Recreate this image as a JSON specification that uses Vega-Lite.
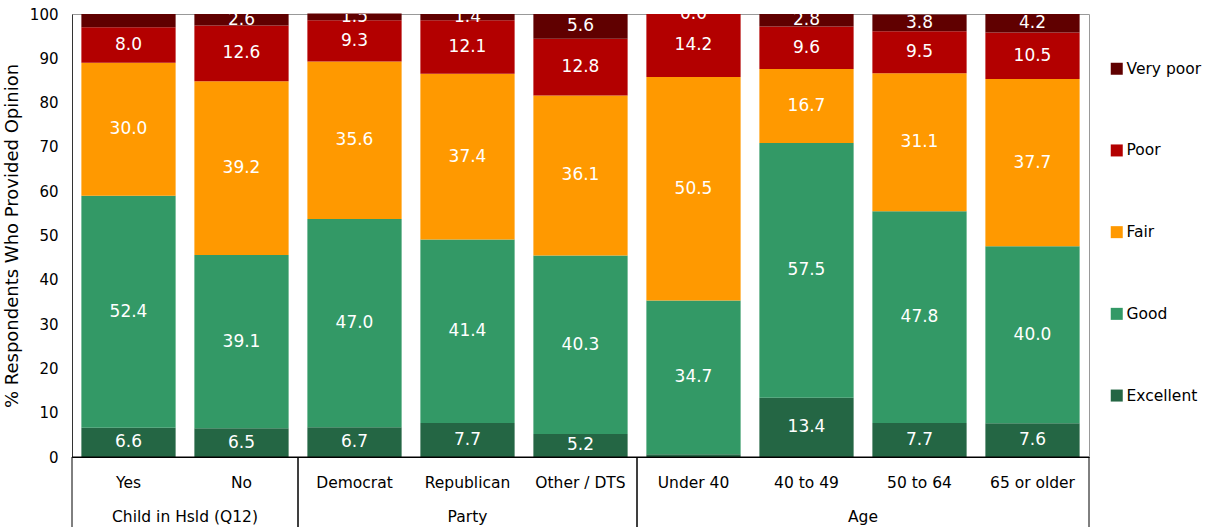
{
  "$schema": "https://vega.github.io/schema/vega-lite/v6.json",
  "width": 1017,
  "height": 443,
  "autosize": {"type": "none"},
  "padding": {"left": 72, "top": 14, "right": 127, "bottom": 70},
  "config": {
    "font": "DejaVu Sans",
    "view": {"stroke": "#999999", "strokeWidth": 1}
  },
  "datasets": {
    "ratings": [
      {"sub": "Yes", "rating": "Excellent", "rank": 1, "value": 6.6},
      {"sub": "Yes", "rating": "Good", "rank": 2, "value": 52.4},
      {"sub": "Yes", "rating": "Fair", "rank": 3, "value": 30.0},
      {"sub": "Yes", "rating": "Poor", "rank": 4, "value": 8.0},
      {"sub": "Yes", "rating": "Very poor", "rank": 5, "value": 3.0},
      {"sub": "No", "rating": "Excellent", "rank": 1, "value": 6.5},
      {"sub": "No", "rating": "Good", "rank": 2, "value": 39.1},
      {"sub": "No", "rating": "Fair", "rank": 3, "value": 39.2},
      {"sub": "No", "rating": "Poor", "rank": 4, "value": 12.6},
      {"sub": "No", "rating": "Very poor", "rank": 5, "value": 2.6},
      {"sub": "Democrat", "rating": "Excellent", "rank": 1, "value": 6.7},
      {"sub": "Democrat", "rating": "Good", "rank": 2, "value": 47.0},
      {"sub": "Democrat", "rating": "Fair", "rank": 3, "value": 35.6},
      {"sub": "Democrat", "rating": "Poor", "rank": 4, "value": 9.3},
      {"sub": "Democrat", "rating": "Very poor", "rank": 5, "value": 1.5},
      {"sub": "Republican", "rating": "Excellent", "rank": 1, "value": 7.7},
      {"sub": "Republican", "rating": "Good", "rank": 2, "value": 41.4},
      {"sub": "Republican", "rating": "Fair", "rank": 3, "value": 37.4},
      {"sub": "Republican", "rating": "Poor", "rank": 4, "value": 12.1},
      {"sub": "Republican", "rating": "Very poor", "rank": 5, "value": 1.4},
      {"sub": "Other / DTS", "rating": "Excellent", "rank": 1, "value": 5.2},
      {"sub": "Other / DTS", "rating": "Good", "rank": 2, "value": 40.3},
      {"sub": "Other / DTS", "rating": "Fair", "rank": 3, "value": 36.1},
      {"sub": "Other / DTS", "rating": "Poor", "rank": 4, "value": 12.8},
      {"sub": "Other / DTS", "rating": "Very poor", "rank": 5, "value": 5.6},
      {"sub": "Under 40", "rating": "Excellent", "rank": 1, "value": 0.6},
      {"sub": "Under 40", "rating": "Good", "rank": 2, "value": 34.7},
      {"sub": "Under 40", "rating": "Fair", "rank": 3, "value": 50.5},
      {"sub": "Under 40", "rating": "Poor", "rank": 4, "value": 14.2},
      {"sub": "Under 40", "rating": "Very poor", "rank": 5, "value": 0.0},
      {"sub": "40 to 49", "rating": "Excellent", "rank": 1, "value": 13.4},
      {"sub": "40 to 49", "rating": "Good", "rank": 2, "value": 57.5},
      {"sub": "40 to 49", "rating": "Fair", "rank": 3, "value": 16.7},
      {"sub": "40 to 49", "rating": "Poor", "rank": 4, "value": 9.6},
      {"sub": "40 to 49", "rating": "Very poor", "rank": 5, "value": 2.8},
      {"sub": "50 to 64", "rating": "Excellent", "rank": 1, "value": 7.7},
      {"sub": "50 to 64", "rating": "Good", "rank": 2, "value": 47.8},
      {"sub": "50 to 64", "rating": "Fair", "rank": 3, "value": 31.1},
      {"sub": "50 to 64", "rating": "Poor", "rank": 4, "value": 9.5},
      {"sub": "50 to 64", "rating": "Very poor", "rank": 5, "value": 3.8},
      {"sub": "65 or older", "rating": "Excellent", "rank": 1, "value": 7.6},
      {"sub": "65 or older", "rating": "Good", "rank": 2, "value": 40.0},
      {"sub": "65 or older", "rating": "Fair", "rank": 3, "value": 37.7},
      {"sub": "65 or older", "rating": "Poor", "rank": 4, "value": 10.5},
      {"sub": "65 or older", "rating": "Very poor", "rank": 5, "value": 4.2}
    ],
    "groups": [
      {"group": "Child in Hsld (Q12)", "n": 2},
      {"group": "Party", "n": 3},
      {"group": "Age", "n": 4}
    ]
  },
  "layer": [
    {
      "data": {"name": "ratings"},
      "encoding": {
        "x": {
          "field": "sub",
          "type": "nominal",
          "sort": ["Yes", "No", "Democrat", "Republican", "Other / DTS", "Under 40", "40 to 49", "50 to 64", "65 or older"],
          "scale": {"paddingInner": 0.166, "paddingOuter": 0.083},
          "axis": {
            "title": null,
            "labelAngle": 0,
            "ticks": false,
            "tickSize": 0,
            "labelPadding": 18,
            "labelFontSize": 15.5,
            "labelColor": "black",
            "domainColor": "black",
            "domainWidth": 1
          }
        }
      },
      "layer": [
        {
          "mark": {"type": "bar"},
          "encoding": {
            "y": {
              "field": "value",
              "type": "quantitative",
              "stack": "zero",
              "scale": {"domain": [0, 100], "nice": false},
              "axis": {
                "values": [0, 10, 20, 30, 40, 50, 60, 70, 80, 90, 100],
                "grid": false,
                "ticks": false,
                "tickSize": 0,
                "labelPadding": 14,
                "labelFontSize": 15,
                "labelColor": "black",
                "domainColor": "#333333",
                "title": "% Respondents Who Provided Opinion",
                "titleFontSize": 18,
                "titleFontWeight": "normal",
                "titleColor": "black",
                "titlePadding": 8
              }
            },
            "color": {
              "field": "rating",
              "type": "nominal",
              "scale": {
                "domain": ["Very poor", "Poor", "Fair", "Good", "Excellent"],
                "range": ["#600000", "#B30000", "#FF9900", "#339966", "#246644"]
              },
              "legend": {
                "orient": "none",
                "legendX": 1037,
                "legendY": 47,
                "title": null,
                "symbolType": "square",
                "symbolSize": 144,
                "symbolStrokeWidth": 0,
                "labelFontSize": 15.5,
                "labelColor": "black",
                "labelOffset": 2,
                "rowPadding": 64.7
              }
            },
            "order": {"field": "rank", "type": "quantitative"}
          }
        },
        {
          "mark": {"type": "text", "color": "white", "fontSize": 17, "baseline": "middle", "clip": true},
          "encoding": {
            "y": {
              "field": "value",
              "type": "quantitative",
              "stack": "zero",
              "bandPosition": 0.5
            },
            "detail": {"field": "rating", "type": "nominal"},
            "order": {"field": "rank", "type": "quantitative"},
            "text": {
              "condition": {
                "test": "(datum.sub == 'Yes' && datum.rating == 'Very poor') || (datum.sub == 'Under 40' && datum.rating == 'Excellent')",
                "value": ""
              },
              "field": "value",
              "type": "quantitative",
              "format": ".1f"
            }
          }
        }
      ]
    },
    {
      "data": {"name": "groups"},
      "transform": [
        {"stack": "n", "groupby": [], "sort": [{"field": "n"}], "as": ["s", "e"]},
        {"calculate": "(datum.s + datum.e) / 2", "as": "mid"}
      ],
      "layer": [
        {
          "mark": {"type": "rect", "fill": "transparent", "stroke": "black", "strokeWidth": 1},
          "encoding": {
            "x": {"field": "s", "type": "quantitative", "scale": {"domain": [0, 9], "nice": false}, "axis": null},
            "x2": {"field": "e"},
            "y": {"datum": 0, "type": "quantitative", "scale": {"domain": [0, 100], "nice": false}},
            "y2": {"datum": -16}
          }
        },
        {
          "mark": {"type": "text", "fontSize": 15.5, "baseline": "middle", "color": "black"},
          "encoding": {
            "x": {"field": "mid", "type": "quantitative", "scale": {"domain": [0, 9], "nice": false}, "axis": null},
            "y": {"datum": -13.5, "type": "quantitative"},
            "text": {"field": "group", "type": "nominal"}
          }
        }
      ]
    }
  ],
  "resolve": {"scale": {"x": "independent"}}
}
